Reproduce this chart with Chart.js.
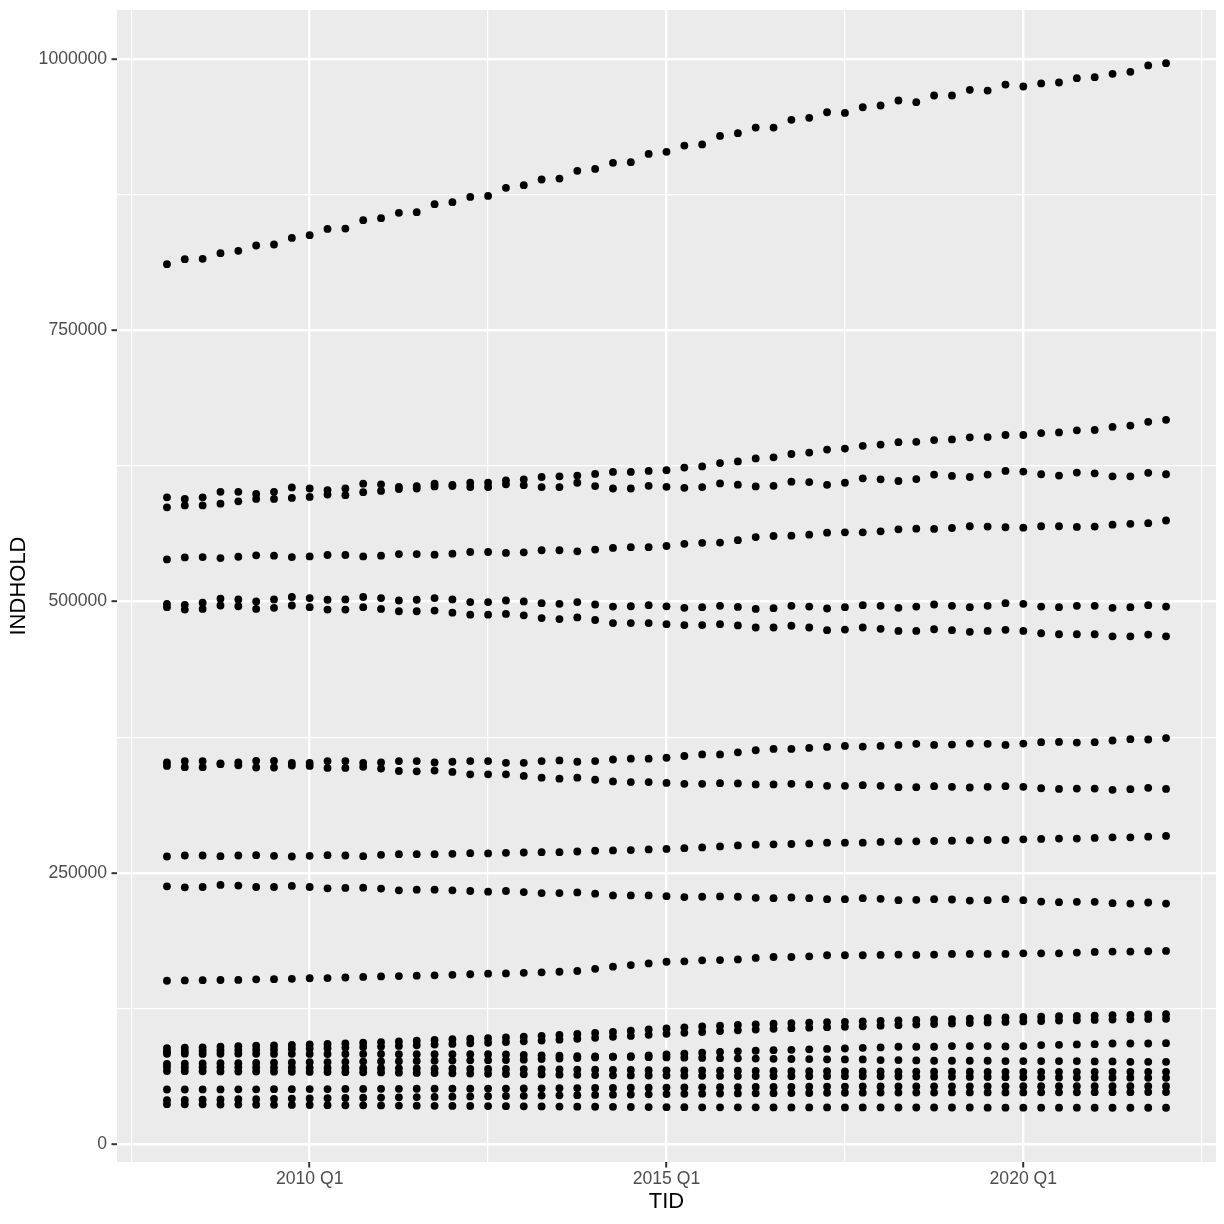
<!DOCTYPE html>
<html><head><meta charset="utf-8">
<script src="https://cdn.jsdelivr.net/npm/chart.js@4.4.1/dist/chart.umd.min.js"></script>
<style>html,body{margin:0;padding:0;background:#fff}#wrap{width:1224px;height:1224px}</style>
</head><body><div id="wrap"><canvas id="c" width="1224" height="1224"></canvas></div>
<script>
const quarters = ["2008Q1","2008Q2","2008Q3","2008Q4","2009Q1","2009Q2","2009Q3","2009Q4","2010Q1","2010Q2","2010Q3","2010Q4","2011Q1","2011Q2","2011Q3","2011Q4","2012Q1","2012Q2","2012Q3","2012Q4","2013Q1","2013Q2","2013Q3","2013Q4","2014Q1","2014Q2","2014Q3","2014Q4","2015Q1","2015Q2","2015Q3","2015Q4","2016Q1","2016Q2","2016Q3","2016Q4","2017Q1","2017Q2","2017Q3","2017Q4","2018Q1","2018Q2","2018Q3","2018Q4","2019Q1","2019Q2","2019Q3","2019Q4","2020Q1","2020Q2","2020Q3","2020Q4","2021Q1","2021Q2","2021Q3","2021Q4","2022Q1"];

// values in thousands
const s01 = [810.8,815.4,815.7,820.9,823.1,828.0,828.9,835.0,837.5,843.3,843.6,851.3,853.2,858.1,858.7,866.1,867.9,872.8,873.7,881.1,883.6,888.8,889.7,896.8,898.6,904.2,904.8,912.4,914.3,920.1,921.1,929.0,931.5,936.7,936.7,943.8,945.6,950.8,950.2,955.4,957.0,961.6,960.1,966.2,966.2,971.4,970.8,976.3,974.5,977.3,978.2,982.2,983.1,986.2,988.0,993.9,996.0];
const s02 = [596.0,594.5,596.0,601.0,601.0,599.1,601.0,605.1,604.1,602.6,604.1,608.5,607.9,605.6,606.3,608.5,607.5,609.4,609.4,611.6,612.5,614.7,615.3,616.0,617.5,619.4,619.4,620.3,621.0,623.4,624.4,627.5,629.0,631.8,632.8,635.9,637.2,640.0,640.9,643.4,644.6,646.8,647.1,648.7,649.3,651.2,651.5,653.4,653.4,655.2,655.8,657.7,658.0,660.8,662.1,665.5,667.4];
const s03 = [586.7,588.5,588.5,590.1,592.3,594.5,594.5,595.4,596.3,598.5,597.9,600.7,601.9,603.6,604.1,606.0,606.3,605.4,605.4,607.9,607.2,605.4,605.4,609.4,606.3,604.1,604.1,606.6,605.6,604.7,605.4,608.8,607.6,606.0,606.6,610.4,610.0,607.5,609.4,613.5,612.5,611.0,612.8,616.9,615.7,614.7,616.9,620.3,619.7,617.2,616.0,618.8,618.1,615.3,615.3,618.5,617.2];
const s04 = [538.7,540.6,540.9,540.0,541.2,542.5,542.2,540.9,541.5,542.8,542.8,541.5,542.2,543.7,543.7,543.1,544.0,545.6,545.6,544.7,545.3,547.2,547.2,546.2,547.8,549.3,550.0,550.0,551.1,553.1,554.0,554.3,556.5,559.3,560.3,560.6,561.5,563.4,563.7,563.7,564.6,566.5,567.1,566.8,567.7,569.3,569.0,568.4,568.0,569.3,569.3,568.7,569.0,570.8,571.5,572.1,574.6];
const s05 = [497.8,496.9,498.8,502.5,501.9,500.0,501.9,504.1,503.1,501.6,501.9,504.1,503.1,500.9,501.6,503.1,501.9,499.4,499.4,500.9,500.0,498.4,497.8,499.4,497.2,495.3,495.6,496.6,495.5,494.1,494.7,496.0,495.0,493.1,493.8,496.0,495.3,493.5,494.7,496.6,496.0,494.1,495.3,497.2,496.0,494.7,496.0,498.4,497.8,495.3,494.7,496.0,496.0,494.1,494.7,496.6,495.3];
const s06 = [494.7,492.5,493.1,496.3,495.6,493.1,494.1,496.3,494.7,492.5,492.5,494.7,493.1,491.0,491.0,491.6,489.7,487.8,487.8,488.5,487.2,484.7,483.8,485.3,482.9,480.1,480.1,480.1,479.1,478.2,478.2,479.1,477.9,476.0,476.0,477.6,476.0,473.5,474.1,476.0,474.8,472.9,472.9,474.4,473.5,472.0,472.9,473.9,472.9,470.7,469.8,469.8,469.8,467.9,467.9,469.5,467.9];
const s07 = [351.6,352.9,352.9,350.9,351.6,353.2,353.2,351.3,351.3,352.9,352.9,351.3,351.6,352.9,352.9,351.6,352.3,352.9,352.9,351.3,351.3,352.9,353.5,352.3,352.9,354.4,355.1,355.1,356.0,357.6,359.1,359.1,361.0,362.9,364.1,364.1,365.0,366.0,366.9,366.3,366.9,367.8,368.8,367.8,368.1,369.1,368.8,367.8,369.1,370.3,370.6,370.0,370.3,371.9,373.1,372.8,374.1];
const s08 = [348.5,347.3,347.3,350.1,349.1,347.0,347.0,348.8,348.5,346.6,346.6,347.6,346.0,343.8,343.5,344.2,342.9,340.7,340.7,340.7,339.2,337.6,336.7,337.6,335.7,334.2,333.6,333.6,332.8,332.0,332.0,332.6,332.3,331.4,331.4,332.0,331.4,330.1,330.1,330.7,330.1,328.9,328.9,329.8,329.2,328.6,329.2,329.8,329.2,327.9,327.3,327.6,327.6,326.4,327.0,328.3,327.3];
const s09 = [265.0,265.9,265.9,265.3,265.9,266.2,265.6,265.0,265.6,266.2,265.9,265.3,266.5,267.1,267.1,267.1,267.5,268.1,267.8,268.4,268.7,269.0,269.0,269.6,270.3,270.6,270.9,271.5,272.0,272.7,273.4,274.3,275.2,275.9,276.2,276.5,277.1,277.7,277.7,277.7,278.4,279.0,279.0,279.3,279.6,279.9,280.2,280.2,280.8,281.2,281.5,281.5,282.1,282.7,282.7,283.3,284.0];
const s10 = [237.5,236.6,236.9,238.8,238.2,236.9,236.9,237.9,236.9,235.7,236.0,236.3,235.4,233.8,234.4,234.4,233.8,233.2,232.6,233.2,232.2,231.3,231.3,231.9,230.7,229.1,229.1,229.1,228.4,227.6,227.9,228.2,227.9,226.9,226.6,227.2,226.6,225.7,225.7,226.6,226.0,224.8,225.1,225.7,225.4,224.4,224.8,225.7,224.8,223.5,222.9,223.2,223.2,222.0,221.6,222.6,221.6];
const s11 = [150.5,150.8,151.0,151.2,151.3,151.8,152.0,152.3,152.8,153.0,153.5,154.0,154.5,154.8,155.2,155.5,156.0,156.5,157.0,157.3,157.8,158.3,158.8,159.5,161.5,163.5,165.0,166.5,168.0,168.4,169.3,169.6,170.2,171.5,172.4,172.4,173.0,174.0,174.0,174.0,174.3,174.6,174.3,174.6,175.2,175.2,175.2,175.2,175.8,175.8,175.8,176.5,177.1,177.4,177.4,177.7,178.0];
const s12 = [88.5,88.9,89.2,89.8,90.2,90.6,90.9,91.4,91.8,92.3,92.8,93.4,94.0,94.6,95.3,96.0,96.6,97.1,97.6,98.3,99.0,99.8,100.6,101.5,102.4,103.4,104.5,105.6,106.6,107.6,108.4,109.1,109.8,110.4,111.0,111.5,112.0,112.4,112.7,113.1,113.6,114.0,114.4,114.8,115.2,115.7,116.2,116.7,117.1,117.4,117.8,118.1,118.4,118.8,119.1,119.5,119.8];
const s13 = [85.5,85.7,85.9,86.3,86.6,86.9,87.2,87.6,88.0,88.4,88.9,89.4,89.9,90.5,91.1,91.7,92.3,92.9,93.4,94.0,94.7,95.4,96.2,97.0,97.9,98.8,99.7,100.7,101.6,102.5,103.3,104.1,104.8,105.5,106.2,106.8,107.3,107.7,108.1,108.6,109.1,109.6,110.1,110.6,111.1,111.6,112.1,112.6,113.0,113.4,113.8,114.1,114.4,114.7,115.0,115.3,115.5];
const s14 = [74.0,74.2,74.3,74.5,74.6,74.8,75.0,75.2,75.4,75.6,75.8,76.0,76.2,76.4,76.6,76.8,77.0,77.2,77.3,77.4,77.8,78.3,78.8,79.3,79.9,80.5,81.1,81.8,82.6,83.4,84.2,84.9,85.5,86.0,86.5,86.9,87.3,87.7,88.1,88.7,89.1,89.7,89.7,89.7,90.3,90.3,90.3,90.0,90.3,91.2,91.5,91.8,92.1,92.7,92.7,92.7,93.0];
const s15 = [83.2,83.3,83.1,83.2,83.3,83.2,83.1,83.2,83.1,83.0,83.0,83.1,83.0,82.9,82.9,82.9,82.8,82.8,82.9,82.6,82.2,81.8,81.4,81.0,80.7,80.5,80.3,80.1,79.9,79.6,79.4,79.2,79.0,78.8,78.6,78.4,78.3,78.1,78.0,78.0,77.4,77.4,77.1,76.8,76.8,76.8,76.8,76.5,76.5,76.5,76.5,76.5,76.2,76.2,75.8,75.8,75.8];
const s16 = [71.0,70.9,70.8,70.8,70.7,70.6,70.5,70.4,70.3,70.2,70.1,70.0,69.9,69.8,69.7,69.6,69.5,69.4,69.3,69.2,69.1,69.0,68.9,68.7,68.6,68.4,68.3,68.1,68.0,67.9,67.8,67.7,67.6,67.5,67.4,67.3,67.2,67.1,67.0,66.9,66.9,66.8,66.8,66.7,66.7,66.7,66.6,66.6,66.6,66.6,66.6,66.6,66.6,66.6,66.6,66.6,66.6];
const s17 = [67.3,67.2,67.1,67.0,66.9,66.8,66.7,66.6,66.5,66.4,66.3,66.2,66.0,65.8,65.6,65.4,65.2,65.0,64.8,64.6,64.4,64.2,64.0,63.8,63.6,63.4,63.3,63.2,63.1,63.0,62.9,62.8,62.7,62.7,62.6,62.6,62.6,62.6,62.6,62.5,62.4,62.3,62.2,62.1,62.0,61.9,61.8,61.7,61.6,61.5,61.4,61.3,61.3,61.2,61.2,61.1,61.1];
const s18 = [50.3,50.3,50.4,50.4,50.5,50.5,50.6,50.6,50.7,50.7,50.8,50.8,50.9,50.9,51.0,51.0,51.1,51.1,51.2,51.2,51.3,51.4,51.5,51.6,51.7,51.8,51.9,52.0,52.1,52.2,52.3,52.4,52.5,52.6,52.7,52.8,52.9,53.0,53.0,53.1,53.1,53.1,53.1,53.2,53.2,53.2,53.2,53.2,53.3,53.3,53.3,53.3,53.3,53.4,53.4,53.4,53.4];
const s19 = [40.5,40.7,40.9,41.1,41.3,41.5,41.7,41.9,42.1,42.3,42.5,42.7,42.9,43.1,43.3,43.5,43.7,43.9,44.1,44.3,44.5,44.7,44.9,45.1,45.3,45.5,45.7,45.9,46.1,46.3,46.5,46.6,46.7,46.8,46.9,47.0,47.1,47.2,47.3,47.4,47.5,47.5,47.5,47.5,47.6,47.6,47.6,47.6,47.6,47.7,47.7,47.7,47.8,47.8,47.8,47.9,47.9];
const s20 = [36.8,36.7,36.6,36.5,36.4,36.3,36.2,36.1,36.0,35.9,35.8,35.7,35.6,35.5,35.4,35.3,35.2,35.1,35.0,34.9,34.8,34.7,34.6,34.5,34.4,34.3,34.2,34.1,34.0,34.0,33.9,33.9,33.9,33.9,33.8,33.8,33.8,33.8,33.8,33.8,33.8,33.7,33.7,33.7,33.7,33.7,33.6,33.6,33.6,33.6,33.6,33.6,33.5,33.5,33.5,33.5,33.5];

const seriesList = [s01,s02,s03,s04,s05,s06,s07,s08,s09,s10,s11,s12,s13,s14,s15,s16,s17,s18,s19,s20];
const valueUnit = 1000;

const yMajor = [0, 250000, 500000, 750000, 1000000];
const yMinor = [125000, 375000, 625000, 875000];
const xMajor = [2010, 2015, 2020];
const xMinor = [2007.5, 2012.5, 2017.5, 2022.5];
const xTickLabels = ["2010 Q1", "2015 Q1", "2020 Q1"];

function quarterToNumber(q) {
  return parseInt(q.slice(0, 4), 10) + (parseInt(q.slice(5), 10) - 1) / 4;
}
const xs = quarters.map(quarterToNumber);

const datasets = seriesList.map((s, k) => ({
  label: 'series ' + (k + 1),
  data: s.map((v, i) => ({ x: xs[i], y: v * valueUnit })),
  pointRadius: 3.9,
  pointHoverRadius: 3.9,
  pointBackgroundColor: '#000',
  pointBorderWidth: 0,
  showLine: false
}));

const panelBg = {
  id: 'panelBg',
  beforeDraw(chart) {
    const { ctx, chartArea: a } = chart;
    ctx.save();
    ctx.fillStyle = '#EBEBEB';
    ctx.fillRect(a.left, a.top, a.right - a.left, a.bottom - a.top);
    ctx.restore();
  }
};

const isMajorX = v => xMajor.some(m => Math.abs(m - v) < 1e-6);
const isMajorY = v => yMajor.some(m => Math.abs(m - v) < 1e-6);

new Chart(document.getElementById('c'), {
  type: 'scatter',
  data: { datasets },
  plugins: [panelBg],
  options: {
    responsive: false,
    animation: false,
    devicePixelRatio: 1,
    events: [],
    layout: { padding: { left: 0, right: 8, top: 10, bottom: 0 } },
    plugins: { legend: { display: false }, tooltip: { enabled: false } },
    scales: {
      x: {
        type: 'linear',
        min: 2007.3,
        max: 2022.7,
        afterBuildTicks: s => { s.ticks = [...xMinor, ...xMajor].sort((a, b) => a - b).map(v => ({ value: v })); },
        afterFit: s => { s.height = 62; s.paddingLeft = 0; s.paddingRight = 0; s.paddingTop = 0; s.paddingBottom = 0; },
        border: { display: false },
        grid: {
          color: '#FFFFFF',
          lineWidth: c => isMajorX(c.tick.value) ? 2.4 : 1.2,
          drawTicks: true,
          tickLength: 5.5,
          tickWidth: 2,
          tickColor: c => isMajorX(c.tick.value) ? '#333333' : 'rgba(0,0,0,0)'
        },
        ticks: {
          autoSkip: false,
          maxRotation: 0,
          minRotation: 0,
          padding: 2.5,
          color: '#4D4D4D',
          font: { family: 'Liberation Sans', size: 17.6, lineHeight: 1 },
          callback: v => { const k = xMajor.findIndex(m => Math.abs(m - v) < 1e-6); return k >= 0 ? xTickLabels[k] : ''; }
        },
        title: {
          display: true,
          text: 'TID',
          color: '#000',
          font: { family: 'Liberation Sans', size: 22, lineHeight: 1 },
          padding: { top: 0, bottom: 11 }
        }
      },
      y: {
        type: 'linear',
        min: -16500,
        max: 1045000,
        afterBuildTicks: s => { s.ticks = [...yMajor, ...yMinor].sort((a, b) => a - b).map(v => ({ value: v })); },
        afterFit: s => { s.width = 117; s.paddingLeft = 0; s.paddingRight = 0; s.paddingTop = 0; s.paddingBottom = 0; },
        border: { display: false },
        grid: {
          color: '#FFFFFF',
          lineWidth: c => isMajorY(c.tick.value) ? 2.4 : 1.2,
          drawTicks: true,
          tickLength: 5.5,
          tickWidth: 2,
          tickColor: c => isMajorY(c.tick.value) ? '#333333' : 'rgba(0,0,0,0)'
        },
        ticks: {
          autoSkip: false,
          padding: 4.4,
          color: '#4D4D4D',
          font: { family: 'Liberation Sans', size: 17.6, lineHeight: 1 },
          callback: v => isMajorY(v) ? String(v) : ''
        },
        title: {
          display: true,
          text: 'INDHOLD',
          color: '#000',
          font: { family: 'Liberation Sans', size: 22, lineHeight: 1 },
          padding: { top: 8, bottom: 0 }
        }
      }
    }
  }
});
</script>
</body></html>
